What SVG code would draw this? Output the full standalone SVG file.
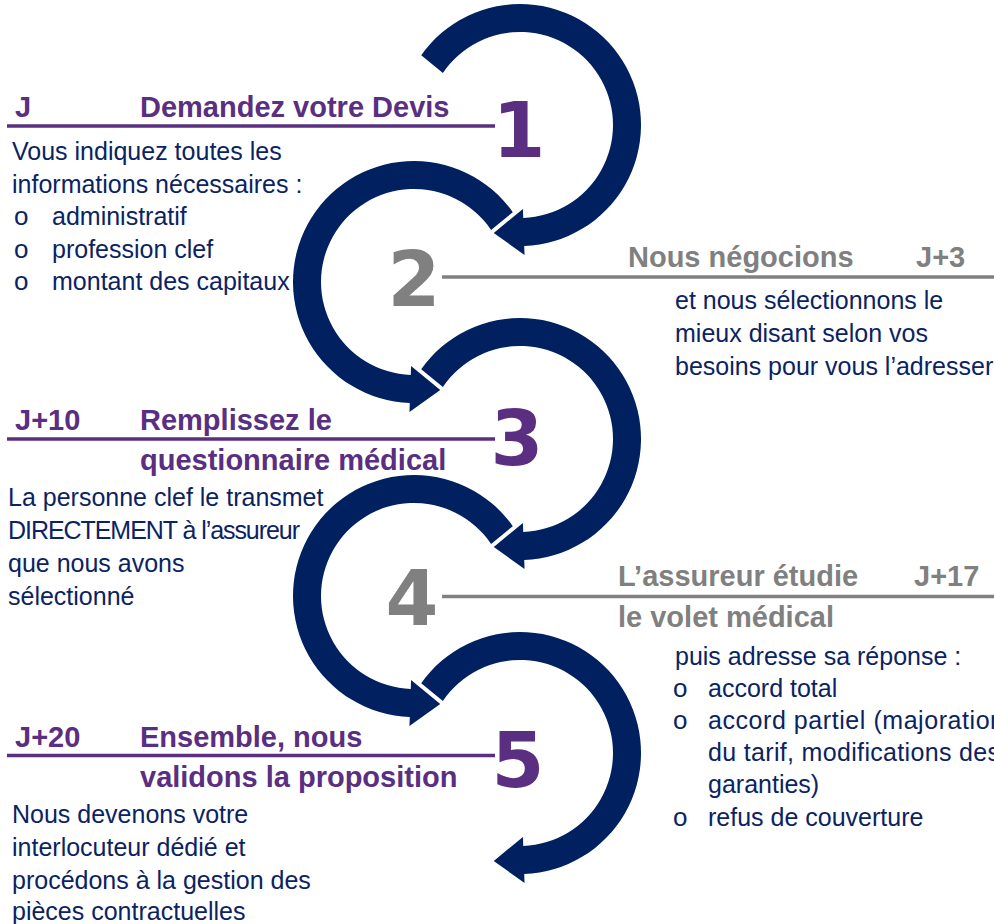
<svg xmlns="http://www.w3.org/2000/svg" xmlns:xlink="http://www.w3.org/1999/xlink" width="994" height="924" viewBox="0 0 994 924">
<style>
.body{font-family:"Liberation Sans",Arial,sans-serif;font-size:25px;fill:#0b2362}
.bul{font-family:"Liberation Sans",Arial,sans-serif;font-size:26px;fill:#0b2362}
.tp{font-family:"Liberation Sans",Arial,sans-serif;font-size:29px;font-weight:bold;fill:#5a2e80}
.tg{font-family:"Liberation Sans",Arial,sans-serif;font-size:29px;font-weight:bold;fill:#808080}
.np{font-family:"DejaVu Sans",Verdana,sans-serif;font-size:76px;font-weight:bold;fill:#5a2e80;text-anchor:middle}
.ng{font-family:"DejaVu Sans",Verdana,sans-serif;font-size:76px;font-weight:bold;fill:#808080;text-anchor:middle}
.lp{stroke:#5a2e80;stroke-width:3.5}
.lg{stroke:#808080;stroke-width:3.5}
.arc{fill:#012060}
</style>
<defs>
<path id="arcR" d="M -98.78 -69.87 A 121 121 0 1 1 4.223 120.93 L 4.537 129.92 L -26.25 107.98 L 2.932 83.95 L 3.246 92.94 A 93 93 0 1 0 -77.10 -52.01 Z"/>
<path id="arcL" d="M 98.78 -69.87 A 121 121 0 1 0 -4.223 120.93 L -4.537 129.92 L 26.25 107.98 L -2.932 83.95 L -3.246 92.94 A 93 93 0 1 1 77.10 -52.01 Z"/>
</defs>
<g id="connectors" class="arc">
<use xlink:href="#arcR" href="#arcR" transform="translate(520,125)"/>
<use xlink:href="#arcL" href="#arcL" transform="translate(414,282)"/>
<use xlink:href="#arcR" href="#arcR" transform="translate(520,439)"/>
<use xlink:href="#arcL" href="#arcL" transform="translate(414,596)"/>
<use xlink:href="#arcR" href="#arcR" transform="translate(520,753)"/>
</g>
<g id="step1">
<text class="np" x="519" y="157">1</text>
<line class="lp" x1="7" y1="126" x2="495" y2="126"/>
<text class="tp" x="15" y="117">J</text>
<text class="tp" x="140" y="117">Demandez votre Devis</text>
<text class="body" x="12" y="160">Vous indiquez toutes les</text>
<text class="body" x="12" y="192.5">informations nécessaires :</text>
<text class="bul" x="14" y="225">o</text><text class="body" x="52" y="225">administratif</text>
<text class="bul" x="14" y="257.5">o</text><text class="body" x="52" y="257.5">profession clef</text>
<text class="bul" x="14" y="290">o</text><text class="body" x="52" y="290">montant des capitaux</text>
</g>
<g id="step2">
<text class="ng" x="414" y="306">2</text>
<line class="lg" x1="442" y1="277" x2="994" y2="277"/>
<text class="tg" x="628" y="267">Nous négocions</text>
<text class="tg" x="916" y="267">J+3</text>
<text class="body" x="675" y="309">et nous sélectionnons le</text>
<text class="body" x="675" y="342">mieux disant selon vos</text>
<text class="body" x="675" y="375">besoins pour vous l’adresser</text>
</g>
<g id="step3">
<text class="np" x="517" y="465">3</text>
<line class="lp" x1="7" y1="439" x2="495" y2="439"/>
<text class="tp" x="15" y="430">J+10</text>
<text class="tp" x="140" y="430">Remplissez le</text>
<text class="tp" x="140" y="470">questionnaire médical</text>
<text class="body" x="8" y="506">La personne clef le transmet</text>
<text class="body" x="8" y="539" textLength="292">DIRECTEMENT à l’assureur</text>
<text class="body" x="8" y="572">que nous avons</text>
<text class="body" x="8" y="605">sélectionné</text>
</g>
<g id="step4">
<text class="ng" x="412" y="625">4</text>
<line class="lg" x1="442" y1="596.5" x2="994" y2="596.5"/>
<text class="tg" x="618" y="586">L’assureur étudie</text>
<text class="tg" x="914" y="586">J+17</text>
<text class="tg" x="618" y="627">le volet médical</text>
<text class="body" x="675" y="665">puis adresse sa réponse :</text>
<text class="bul" x="673" y="697">o</text><text class="body" x="708" y="697">accord total</text>
<text class="bul" x="673" y="729">o</text><text class="body" x="708" y="729" textLength="296">accord partiel (majoration</text>
<text class="body" x="708" y="761" textLength="292">du tarif, modifications des</text>
<text class="body" x="708" y="793">garanties)</text>
<text class="bul" x="673" y="826">o</text><text class="body" x="708" y="826">refus de couverture</text>
</g>
<g id="step5">
<text class="np" x="518" y="787">5</text>
<line class="lp" x1="7" y1="755.5" x2="495" y2="755.5"/>
<text class="tp" x="15" y="747">J+20</text>
<text class="tp" x="140" y="747">Ensemble, nous</text>
<text class="tp" x="140" y="787">validons la proposition</text>
<text class="body" x="12" y="823">Nous devenons votre</text>
<text class="body" x="12" y="856">interlocuteur dédié et</text>
<text class="body" x="12" y="889">procédons à la gestion des</text>
<text class="body" x="12" y="920">pièces contractuelles</text>
</g>
</svg>
